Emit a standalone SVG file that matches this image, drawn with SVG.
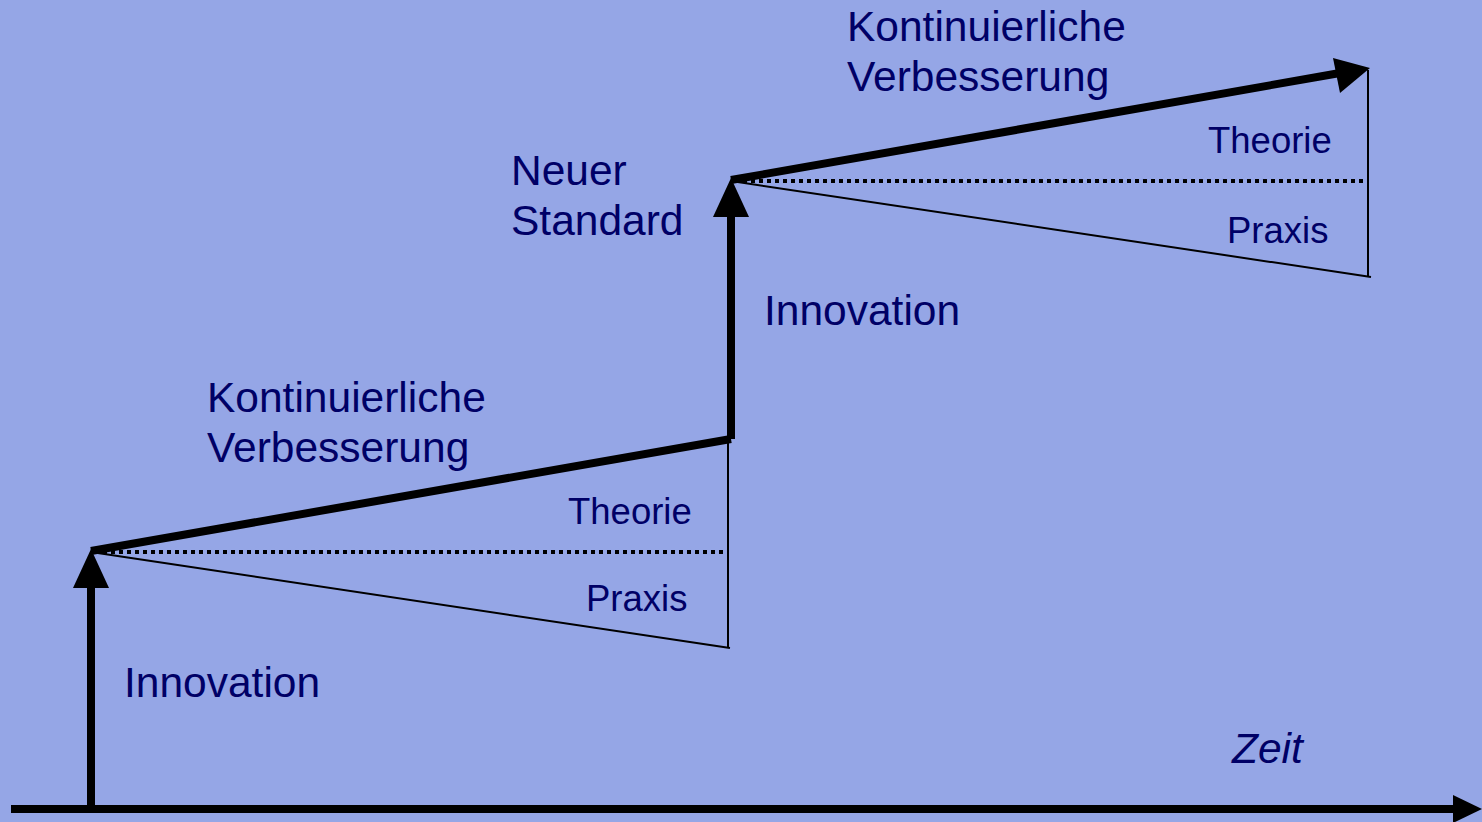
<svg xmlns="http://www.w3.org/2000/svg" width="1482" height="822" viewBox="0 0 1482 822">
  <style>
    .lbl { font-family: "Liberation Sans", Arial, sans-serif; fill: #000066; }
    .big { font-size: 42.5px; }
    .small { font-size: 36.5px; }
    .thick { stroke: #000; stroke-width: 8; fill: none; }
    .thin { stroke: #000; stroke-width: 2; fill: none; }
    .dot { stroke: #000; stroke-width: 4; stroke-dasharray: 4 4; fill: none; }
    .head { fill: #000; }
  </style>
  <rect width="1482" height="822" fill="#95A6E6"/>

  <g id="connectors">
    <!-- time axis -->
    <line class="thick" x1="11" y1="809" x2="1456" y2="809" stroke-width="6"/>
    <polygon class="head" points="1453,795 1482,809 1453,823"/>

    <!-- first innovation step -->
    <line class="thick" x1="91" y1="809" x2="91" y2="585"/>
    <polygon class="head" points="73,588 91,549 109,588"/>

    <!-- first improvement phase -->
    <line class="thick" x1="91" y1="551" x2="731" y2="439"/>
    <line class="dot" x1="95" y1="552" x2="727" y2="552"/>
    <line class="thin" x1="91" y1="552" x2="730" y2="648"/>
    <line class="thin" x1="728" y1="442" x2="728" y2="648"/>

    <!-- second innovation step -->
    <line class="thick" x1="731" y1="439" x2="731" y2="214"/>
    <polygon class="head" points="713,217 731,178 749,217"/>

    <!-- second improvement phase -->
    <line class="thick" x1="731" y1="180" x2="1340" y2="73"/>
    <polygon class="head" points="1333,58 1370,68 1340,93"/>
    <line class="dot" x1="735" y1="181" x2="1368" y2="181"/>
    <line class="thin" x1="731" y1="181" x2="1371" y2="277"/>
    <line class="thin" x1="1368" y1="70" x2="1368" y2="277"/>
  </g>

  <g id="label-kv-top">
    <text class="lbl big" x="847" y="41">Kontinuierliche</text>
    <text class="lbl big" x="847" y="91">Verbesserung</text>
  </g>
  <g id="label-neuer-standard">
    <text class="lbl big" x="511" y="185">Neuer</text>
    <text class="lbl big" x="511" y="235">Standard</text>
  </g>
  <g id="label-innovation-top">
    <text class="lbl big" x="764" y="325">Innovation</text>
  </g>
  <g id="label-kv-bottom">
    <text class="lbl big" x="207" y="412">Kontinuierliche</text>
    <text class="lbl big" x="207" y="462">Verbesserung</text>
  </g>
  <g id="label-theorie-bottom">
    <text class="lbl small" x="568" y="524">Theorie</text>
  </g>
  <g id="label-praxis-bottom">
    <text class="lbl small" x="586" y="611">Praxis</text>
  </g>
  <g id="label-innovation-bottom">
    <text class="lbl big" x="124" y="697">Innovation</text>
  </g>
  <g id="label-theorie-top">
    <text class="lbl small" x="1208" y="153">Theorie</text>
  </g>
  <g id="label-praxis-top">
    <text class="lbl small" x="1227" y="243">Praxis</text>
  </g>
  <g id="label-zeit">
    <text class="lbl big" x="1232" y="763" font-style="italic">Zeit</text>
  </g>
</svg>
